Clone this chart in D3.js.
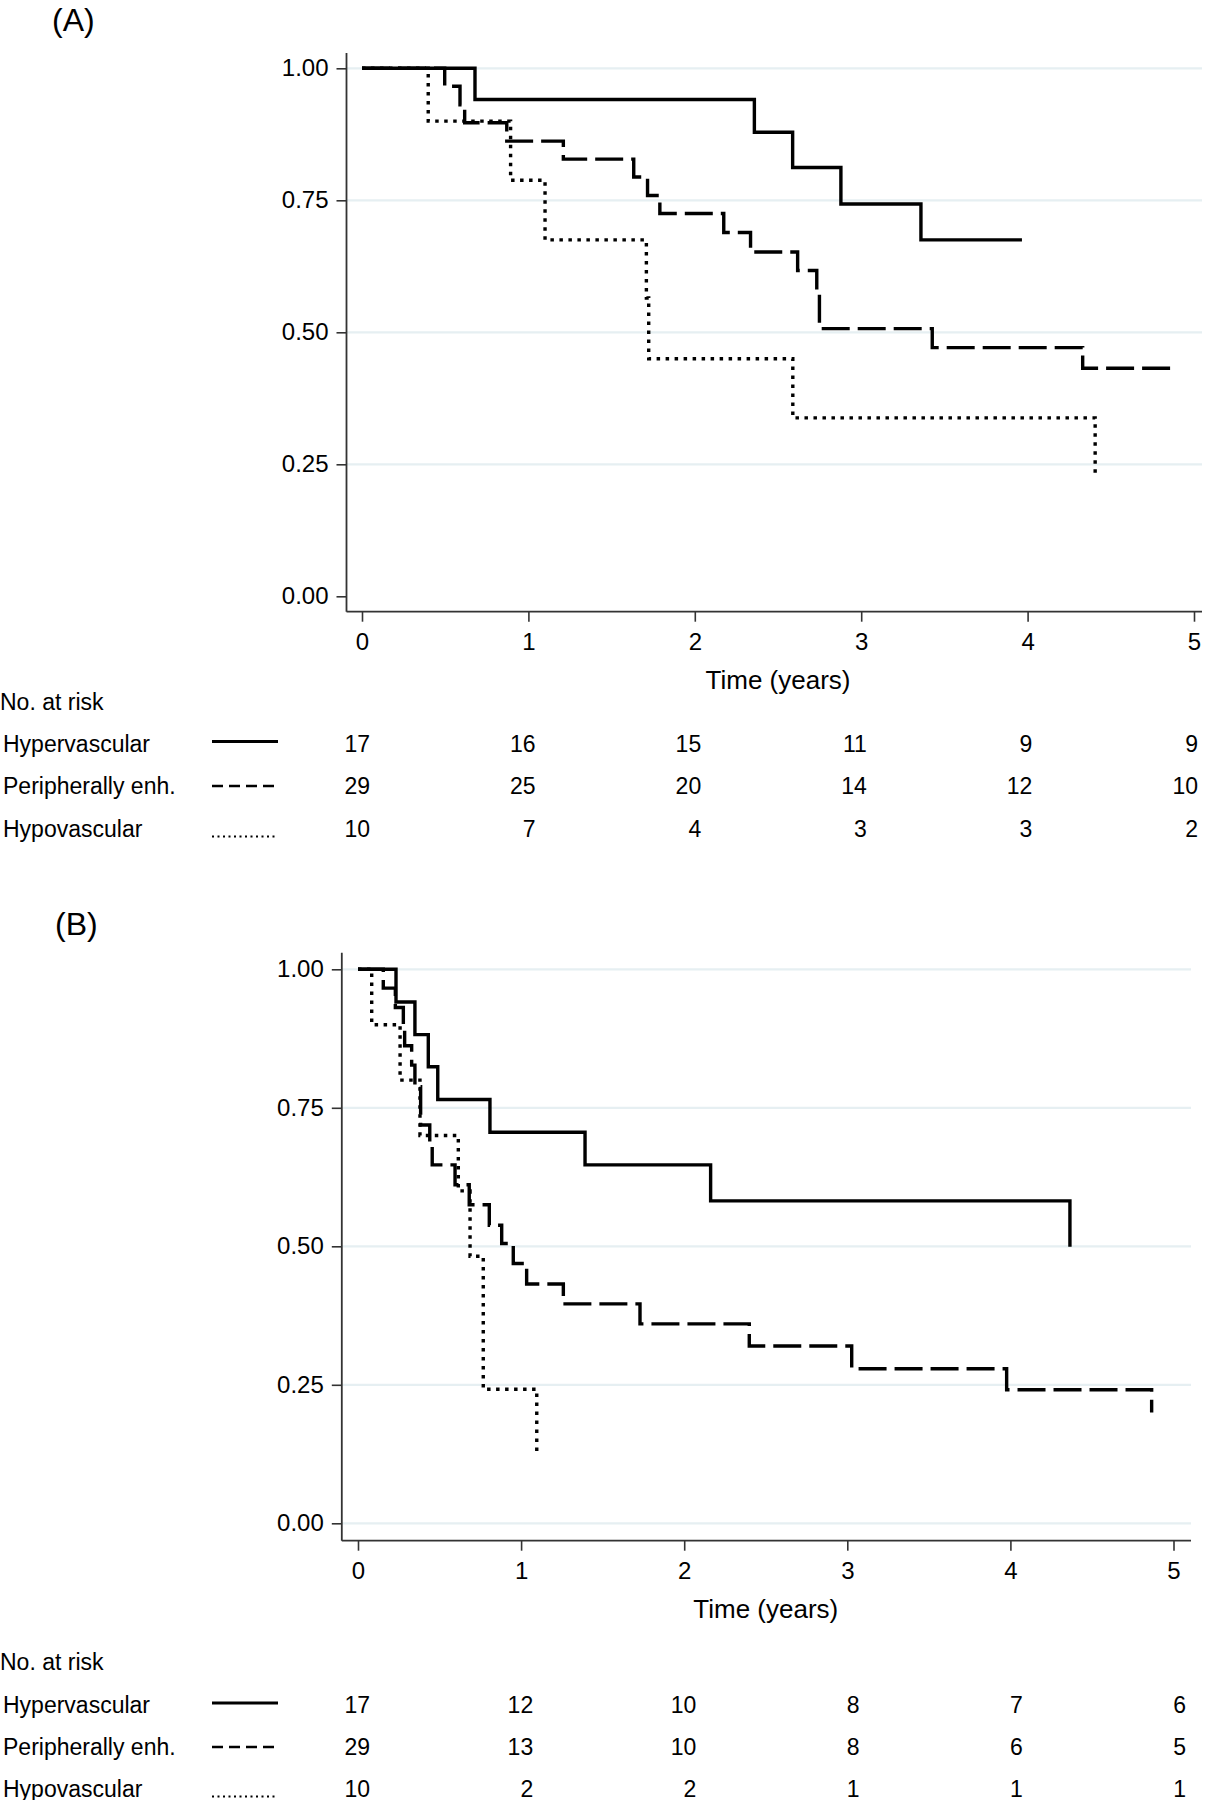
<!DOCTYPE html>
<html>
<head>
<meta charset="utf-8">
<script src="https://cdn.jsdelivr.net/npm/d3@7"></script>
<style>
  body { margin: 0; background: #fff; }
  text { font-family: "Liberation Sans", Arial, sans-serif; fill: #000; }
</style>
</head>
<body>
<svg></svg>
<script>
const width = 1210, height = 1800;

const groups = ["Hypervascular", "Peripherally enh.", "Hypovascular"];
const xTicks = [0, 1, 2, 3, 4, 5];
const yTicks = [0, 0.25, 0.5, 0.75, 1];

// (A) step curves: time of each drop and survival after it
const hyperA_t = [0, 0.679, 2.358, 2.588, 2.878, 3.359];
const hyperA_s = [1, 0.941, 0.879, 0.812, 0.743, 0.675];
const hyperA_end = 3.966;
const periA_t = [0, 0.497, 0.589, 0.617, 0.870, 1.210, 1.633, 1.716, 1.790, 2.174, 2.335, 2.618, 2.733, 2.749, 3.427, 4.331];
const periA_s = [1, 0.966, 0.931, 0.897, 0.862, 0.828, 0.794, 0.759, 0.725, 0.689, 0.652, 0.617, 0.580, 0.507, 0.471, 0.432];
const periA_end = 4.88;
const hypoA_t = [0, 0.398, 0.893, 1.100, 1.709, 1.723, 2.589, 4.406];
const hypoA_s = [1, 0.900, 0.788, 0.675, 0.565, 0.450, 0.338, 0.234];
const hypoA_end = 4.406;

// (B)
const hyperB_t = [0, 0.233, 0.349, 0.431, 0.489, 0.809, 1.392, 2.162, 4.365];
const hyperB_s = [1, 0.941, 0.882, 0.824, 0.765, 0.706, 0.647, 0.582, 0.499];
const hyperB_end = 4.365;
const periB_t = [0, 0.155, 0.229, 0.278, 0.286, 0.329, 0.349, 0.384, 0.440, 0.455, 0.595, 0.682, 0.805, 0.881, 0.952, 1.034, 1.259, 1.729, 2.399, 3.027, 3.977, 4.866];
const periB_s = [1, 0.966, 0.931, 0.896, 0.862, 0.827, 0.788, 0.719, 0.683, 0.647, 0.611, 0.575, 0.538, 0.505, 0.469, 0.432, 0.396, 0.360, 0.320, 0.279, 0.241, 0.200];
const periB_end = 4.866;
const hypoB_t = [0, 0.084, 0.258, 0.380, 0.615, 0.687, 0.768, 1.096];
const hypoB_s = [1, 0.900, 0.800, 0.700, 0.600, 0.482, 0.242, 0.129];
const hypoB_end = 1.096;

// numbers at risk
const riskA = [[17, 16, 15, 11, 9, 9], [29, 25, 20, 14, 12, 10], [10, 7, 4, 3, 3, 2]];
const riskB = [[17, 12, 10, 8, 7, 6], [29, 13, 10, 8, 6, 5], [10, 2, 2, 1, 1, 1]];

const styles = [
  {dash: null, width: 3.4},
  {dash: "28,8", width: 3.4},
  {dash: "3.5,5.5", width: 3.4}
];
// legend sample line offset from text baseline
const legendStyles = [
  {dash: null, width: 3, dy: -10},
  {dash: "11,6", width: 2.5, dy: -8},
  {dash: "2,3.5", width: 2, dy: 0}
];

const svg = d3.select("svg").attr("width", width).attr("height", height);
svg.append("rect").attr("width", width).attr("height", height).attr("fill", "#fff");

const panels = [
  {
    label: "(A)", labelX: 52, labelY: 31,
    x0: 362, x5: 1194, yTop: 68.3, yBot: 596.3,
    axisX: 346.5, axisY: 611.7, axisTop: 53, right: 1202, gridZero: false,
    curves: [[hyperA_t, hyperA_s, hyperA_end], [periA_t, periA_s, periA_end], [hypoA_t, hypoA_s, hypoA_end]],
    risk: riskA, riskY: 710, rowY: [751.5, 794, 836.5], riskR: [370, 1198]
  },
  {
    label: "(B)", labelX: 55, labelY: 935,
    x0: 358, x5: 1173.5, yTop: 969.3, yBot: 1523.3,
    axisX: 341.8, axisY: 1540.7, axisTop: 952.7, right: 1191, gridZero: true,
    curves: [[hyperB_t, hyperB_s, hyperB_end], [periB_t, periB_s, periB_end], [hypoB_t, hypoB_s, hypoB_end]],
    risk: riskB, riskY: 1670, rowY: [1713, 1755, 1796.5], riskR: [370, 1186]
  }
];

panels.forEach(p => drawPanel(p));

function drawPanel(p) {
  const g = svg.append("g");
  const x = d3.scaleLinear().domain([0, 5]).range([p.x0, p.x5]);
  const y = d3.scaleLinear().domain([0, 1]).range([p.yBot, p.yTop]);

  g.append("text").attr("x", p.labelX).attr("y", p.labelY)
    .attr("font-size", 32).text(p.label);

  // gridlines
  g.selectAll("line.grid")
    .data(yTicks.filter(d => p.gridZero || d > 0))
    .enter().append("line")
    .attr("x1", p.axisX).attr("x2", p.right)
    .attr("y1", d => y(d)).attr("y2", d => y(d))
    .attr("stroke", "#e6eff2").attr("stroke-width", 2.2);

  // axes
  const yAxis = d3.axisLeft(y).tickValues(yTicks).tickFormat(d3.format(".2f"))
    .tickSize(10).tickSizeOuter(0).tickPadding(8);
  const ya = g.append("g").attr("transform", `translate(${p.axisX},0)`).call(yAxis);
  ya.select(".domain").remove();
  ya.selectAll("line").attr("stroke", "#333").attr("stroke-width", 1.6);
  ya.selectAll("text").attr("font-size", 24).attr("font-family", null).attr("fill", "#000");

  const xAxis = d3.axisBottom(x).tickValues(xTicks).tickFormat(d3.format("d"))
    .tickSize(10).tickSizeOuter(0).tickPadding(11);
  const xa = g.append("g").attr("transform", `translate(0,${p.axisY})`).call(xAxis);
  xa.select(".domain").remove();
  xa.selectAll("line").attr("stroke", "#333").attr("stroke-width", 1.6);
  xa.selectAll("text").attr("font-size", 24).attr("font-family", null).attr("fill", "#000");

  g.append("line").attr("x1", p.axisX).attr("x2", p.axisX)
    .attr("y1", p.axisTop).attr("y2", p.axisY)
    .attr("stroke", "#333").attr("stroke-width", 1.8);
  g.append("line").attr("x1", p.axisX).attr("x2", p.right)
    .attr("y1", p.axisY).attr("y2", p.axisY)
    .attr("stroke", "#333").attr("stroke-width", 1.8);

  g.append("text").attr("x", (p.x0 + p.x5) / 2).attr("y", p.axisY + 77)
    .attr("text-anchor", "middle").attr("font-size", 26).text("Time (years)");

  // survival curves
  const line = d3.line().x(d => x(d[0])).y(d => y(d[1])).curve(d3.curveStepAfter);
  p.curves.forEach((c, i) => {
    const pts = c[0].map((t, j) => [t, c[1][j]]);
    if (c[2] > c[0][c[0].length - 1]) pts.push([c[2], c[1][c[1].length - 1]]);
    g.append("path").datum(pts).attr("d", line)
      .attr("fill", "none").attr("stroke", "#000")
      .attr("stroke-width", styles[i].width)
      .attr("stroke-dasharray", styles[i].dash)
      .attr("stroke-linecap", "butt");
  });

  // number at risk table
  const rx = d3.scaleLinear().domain([0, 5]).range(p.riskR);
  g.append("text").attr("x", 0).attr("y", p.riskY).attr("font-size", 23).text("No. at risk");
  groups.forEach((name, i) => {
    const yy = p.rowY[i];
    g.append("text").attr("x", 3).attr("y", yy).attr("font-size", 23).text(name);
    g.append("line").attr("x1", 212).attr("x2", 278)
      .attr("y1", yy + legendStyles[i].dy).attr("y2", yy + legendStyles[i].dy)
      .attr("stroke", "#000").attr("stroke-width", legendStyles[i].width)
      .attr("stroke-dasharray", legendStyles[i].dash);
    g.selectAll(null).data(p.risk[i]).enter().append("text")
      .attr("x", (d, j) => rx(xTicks[j]))
      .attr("y", yy).attr("text-anchor", "end").attr("font-size", 23)
      .text(d => d);
  });
}
</script>
</body>
</html>
